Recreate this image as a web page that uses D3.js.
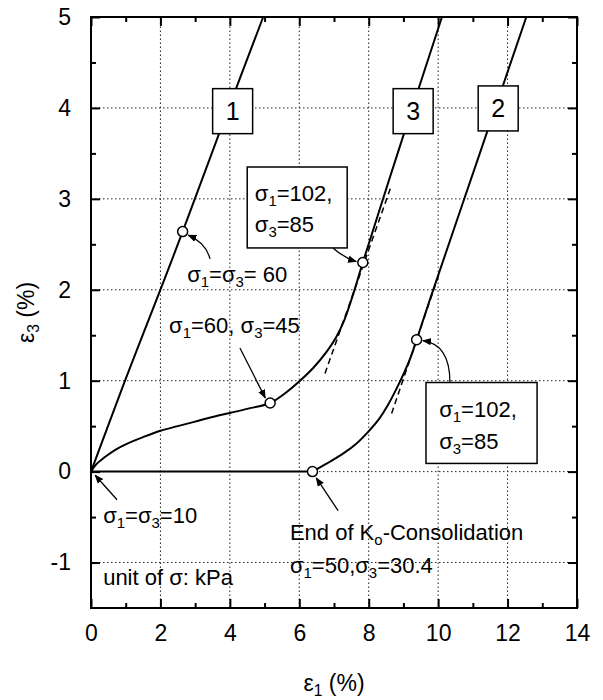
<!DOCTYPE html>
<html><head><meta charset="utf-8">
<script src="https://cdn.jsdelivr.net/npm/d3@7"></script>
<style>
body{margin:0;background:#fff;}
svg text{font-family:"Liberation Sans",Arial,sans-serif;fill:#000;}
</style></head>
<body><svg id="c" width="603" height="700"></svg>
<script>
// ---- data ----
const xTicks = [0,2,4,6,8,10,12,14];
const yTicks = [-1,0,1,2,3,4,5];
const xMinor = [1,3,5,7,9,11,13];
const yMinor = [-0.5,0.5,1.5,2.5,3.5,4.5];
const curve1 = [[0,0],[0.98,1.0],[2.02,2.02],[2.64,2.64],[3.8,3.83],[4.96,5.0]];
const curve3 = [[0,0],[0.15,0.08],[0.4,0.16],[0.7,0.24],[1.0,0.3],[1.5,0.38],[2.0,0.45],[2.5,0.5],[3.0,0.55],[3.5,0.6],[4.0,0.645],[4.5,0.69],[5.16,0.755],[5.6,0.865],[6.02,1.0],[6.4,1.14],[6.79,1.32],[7.05,1.47],[7.3,1.67],[7.56,1.96],[7.83,2.3],[8.9,3.58],[10.11,5.0]];
const curve2Ko = [[0,0],[6.38,0]];
const curve2 = [[6.38,0],[6.8,0.09],[7.27,0.2],[7.65,0.31],[7.99,0.44],[8.3,0.58],[8.52,0.71],[8.9,0.99],[9.19,1.24],[9.38,1.45],[9.77,1.9],[11.2,3.5],[12.54,5.0]];
const markers = [[2.64,2.64],[5.16,0.755],[7.83,2.3],[6.38,0],[9.38,1.45]];
const tangents = [[[6.74,1.08],[8.62,3.11]],[[8.66,0.64],[10.05,2.2]]];
const curveLabels = [{t:"1",x:4.08,y:3.97},{t:"3",x:9.28,y:3.97},{t:"2",x:11.73,y:4.0}];

// ---- layout ----
const svg = d3.select("#c");
const x = d3.scaleLinear().domain([0,14]).range([91,577]);
const y = d3.scaleLinear().domain([-1.5,5]).range([608,17]);

// grid
const g = svg.append("g");
g.selectAll(".gx").data(xTicks.filter(d=>d>0&&d<14)).enter().append("line")
 .attr("x1",d=>x(d)).attr("x2",d=>x(d)).attr("y1",y(-1.5)).attr("y2",y(5))
 .attr("stroke","#222").attr("stroke-width",1).attr("stroke-dasharray","1.5,2.5");
g.selectAll(".gy").data(yTicks.filter(d=>d>-1.5&&d<5)).enter().append("line")
 .attr("x1",x(0)).attr("x2",x(14)).attr("y1",d=>y(d)).attr("y2",d=>y(d))
 .attr("stroke","#222").attr("stroke-width",1).attr("stroke-dasharray","1.5,2.5");

// axes (ticks inward on all sides)
const fs = 23;
const axB = d3.axisBottom(x).tickValues(xTicks).tickSize(-9).tickPadding(17).tickFormat(d3.format("d"));
const axL = d3.axisLeft(y).tickValues(yTicks).tickSize(-9).tickPadding(20).tickFormat(d=>d<0?"-"+Math.abs(d):d);
const axT = d3.axisTop(x).tickValues(xTicks).tickSize(-9).tickFormat("");
const axR = d3.axisRight(y).tickValues(yTicks).tickSize(-9).tickFormat("");
const mB = d3.axisBottom(x).tickValues(xMinor).tickSize(-5).tickFormat("");
const mL = d3.axisLeft(y).tickValues(yMinor).tickSize(-5).tickFormat("");
const mT = d3.axisTop(x).tickValues(xMinor).tickSize(-5).tickFormat("");
const mR = d3.axisRight(y).tickValues(yMinor).tickSize(-5).tickFormat("");
function place(ax,tr){
  const a = svg.append("g").attr("transform",tr).call(ax);
  a.select(".domain").remove();
  a.selectAll("line").attr("stroke","#000").attr("stroke-width",2);
  a.selectAll("text").attr("font-size",fs).attr("fill","#000").style("font-family",'"Liberation Sans",Arial,sans-serif');
  return a;
}
place(axB,`translate(0,${y(-1.5)})`);
place(axL,`translate(${x(0)},0)`);
place(axT,`translate(0,${y(5)})`);
place(axR,`translate(${x(14)},0)`);
place(mB,`translate(0,${y(-1.5)})`);
place(mL,`translate(${x(0)},0)`);
place(mT,`translate(0,${y(5)})`);
place(mR,`translate(${x(14)},0)`);

// frame
svg.append("rect").attr("x",x(0)).attr("y",y(5)).attr("width",x(14)-x(0)).attr("height",y(-1.5)-y(5))
 .attr("fill","none").attr("stroke","#000").attr("stroke-width",2);

// curves
const line = d3.line().x(d=>x(d[0])).y(d=>y(d[1])).curve(d3.curveCatmullRom.alpha(0.5));
[curve1,curve3,curve2Ko,curve2].forEach(c=>{
  svg.append("path").attr("d",line(c)).attr("fill","none").attr("stroke","#000").attr("stroke-width",2);
});
tangents.forEach(t=>{
  svg.append("line").attr("x1",x(t[0][0])).attr("y1",y(t[0][1])).attr("x2",x(t[1][0])).attr("y2",y(t[1][1]))
   .attr("stroke","#000").attr("stroke-width",1.5).attr("stroke-dasharray","6,4");
});

// arrowhead marker
svg.append("defs").append("marker").attr("id","ah").attr("viewBox","0 0 10 10").attr("refX",9).attr("refY",5)
 .attr("markerWidth",9).attr("markerHeight",9).attr("markerUnits","userSpaceOnUse").attr("orient","auto")
 .append("path").attr("d","M0,1 L10,5 L0,9 z").attr("fill","#000");

// arrows: [from, control|null, to] in data coords
const arrows = [
  [[3.43,2.34],[3.30,2.52],[2.80,2.60]],
  [[4.29,1.36],null,[5.02,0.81]],
  [[6.97,2.46],[7.3,2.35],[7.64,2.31]],
  [[10.34,0.98],[10.34,1.40],[9.56,1.44]],
  [[0.75,-0.31],null,[0.12,-0.04]],
  [[7.12,-0.43],null,[6.49,-0.07]]
];
arrows.forEach(a=>{
  const p = d3.path();
  p.moveTo(x(a[0][0]),y(a[0][1]));
  if(a[1]) p.quadraticCurveTo(x(a[1][0]),y(a[1][1]),x(a[2][0]),y(a[2][1]));
  else p.lineTo(x(a[2][0]),y(a[2][1]));
  svg.append("path").attr("d",p.toString()).attr("fill","none").attr("stroke","#000").attr("stroke-width",1.3).attr("marker-end","url(#ah)");
});

// boxes
const boxes = [[4.5,3.35,7.38,2.46],[9.65,0.98,12.85,0.09]];
boxes.forEach(b=>{
  svg.append("rect").attr("x",x(b[0])).attr("y",y(b[1])).attr("width",x(b[2])-x(b[0])).attr("height",y(b[3])-y(b[1]))
   .attr("fill","#fff").attr("stroke","#000").attr("stroke-width",1.5);
});

// markers
svg.selectAll(".mk").data(markers).enter().append("circle")
 .attr("cx",d=>x(d[0])).attr("cy",d=>y(d[1])).attr("r",5)
 .attr("fill","#fff").attr("stroke","#000").attr("stroke-width",1.5);

// curve labels in boxes
curveLabels.forEach(c=>{
  svg.append("rect").attr("x",x(c.x)-20).attr("y",y(c.y)-22).attr("width",40).attr("height",45)
   .attr("fill","#fff").attr("stroke","#000").attr("stroke-width",1.5);
  svg.append("text").attr("x",x(c.x)).attr("y",y(c.y)+9).attr("text-anchor","middle").attr("font-size",25).text(c.t);
});

// rich text helper: segments of [text, isSub]
function rich(px,py,segs,size){
  const t = svg.append("text").attr("x",px).attr("y",py).attr("font-size",size);
  let prevSub=false;
  segs.forEach(s=>{
    const ts = t.append("tspan").text(s[0]);
    if(s[1]){ ts.attr("font-size",size*0.68).attr("dy",prevSub?0:5); prevSub=true; }
    else { if(prevSub) ts.attr("dy",-5); prevSub=false; }
  });
  return t;
}
const S = "σ";
const texts = [
  [2.77,2.08,[[S],["1",1],["="+S],["3",1],["= 60"]]],
  [2.25,1.53,[[S],["1",1],["=60, "+S],["3",1],["=45"]]],
  [4.72,2.98,[[S],["1",1],["=102,"]]],
  [4.72,2.63,[[S],["3",1],["=85"]]],
  [10.03,0.60,[[S],["1",1],["=102,"]]],
  [10.03,0.25,[[S],["3",1],["=85"]]],
  [0.35,-0.57,[[S],["1",1],["="+S],["3",1],["=10"]]],
  [0.35,-1.25,[["unit of "+S+": kPa"]]],
  [5.73,-0.75,[["End of K"],["o",1],["-Consolidation"]]],
  [5.73,-1.12,[[S],["1",1],["=50,"+S],["3",1],["=30.4"]]]
];
texts.forEach(t=>rich(x(t[0]),y(t[1]),t[2],22));

// axis titles
rich(0,0,[["ε"],["1",1],[" (%)"]],23).attr("x",null).attr("y",null)
  .attr("transform",`translate(${(x(0)+x(14))/2},691)`).attr("text-anchor","middle");
rich(0,0,[["ε"],["3",1],[" (%)"]],23).attr("x",null).attr("y",null)
  .attr("transform",`translate(34,${(y(-1.5)+y(5))/2}) rotate(-90)`).attr("text-anchor","middle");
</script></body></html>
